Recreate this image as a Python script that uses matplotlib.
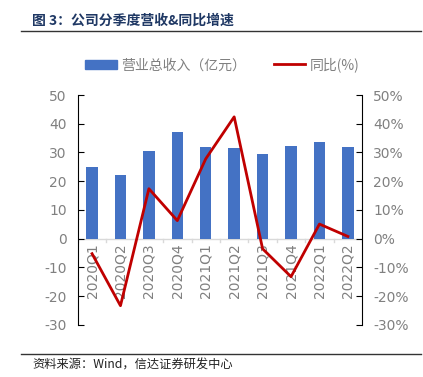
import matplotlib
matplotlib.use("Agg")
import matplotlib.pyplot as plt
from matplotlib.lines import Line2D
from matplotlib.patches import Patch

plt.rcParams['font.family'] = ['Noto Sans CJK SC', 'DejaVu Sans']

quarters = ["2020Q1", "2020Q2", "2020Q3", "2020Q4", "2021Q1", "2021Q2",
            "2021Q3", "2021Q4", "2022Q1", "2022Q2"]
revenue = [25.0, 22.3, 30.4, 37.3, 32.0, 31.7, 29.6, 32.3, 33.5, 32.0]
yoy = [-5.2, -23.3, 17.4, 6.3, 27.8, 42.4, -3.5, -13.2, 5.1, 0.8]
left_ticks = [-30, -20, -10, 0, 10, 20, 30, 40, 50]
right_ticks = [-30, -20, -10, 0, 10, 20, 30, 40, 50]

fig = plt.figure(figsize=(4.23, 3.77), dpi=100)
ax = fig.add_axes([0.184, 0.138, 0.672, 0.610])
ax2 = ax.twinx()

x = list(range(len(quarters)))
ax.bar(x, revenue, width=0.4, color="#4472C4", zorder=2)
ax2.plot(x, yoy, color="#C00000", lw=2.0, zorder=3)

gray = "#808080"
ax.set_xlim(-0.5, len(quarters) - 0.5)
ax.set_ylim(-30, 50)
ax2.set_ylim(-30, 50)
ax.set_yticks(left_ticks)
ax.set_yticklabels([str(v) for v in left_ticks], color=gray, fontsize=10, family='DejaVu Sans')
ax2.set_yticks(right_ticks)
ax2.set_yticklabels([f"{v}%" for v in right_ticks], color=gray, fontsize=10, family='DejaVu Sans')

for a in (ax, ax2):
    a.spines['top'].set_visible(False)
    a.spines['bottom'].set_visible(False)
ax.spines['right'].set_visible(False)
ax.spines['left'].set_color("#000000")
ax2.spines['right'].set_color("#000000")
ax2.spines['left'].set_visible(False)
ax.tick_params(axis='y', direction='in', length=4, color="#000000", pad=8)
ax2.tick_params(axis='y', direction='in', length=4, color="#000000", pad=8)

# zero baseline with category separators
ax.axhline(0, color="#D9D9D9", lw=1, zorder=1)
ax.set_xticks([])
for i in range(len(quarters) + 1):
    ax.plot([i - 0.5, i - 0.5], [0, -1.3], color="#D9D9D9", lw=1, zorder=1)
for i, q in enumerate(quarters):
    ax.text(i, -1.5, q, rotation=90, ha='center', va='top', color=gray,
            fontsize=10, family='DejaVu Sans')

# legend
handles = [Patch(color="#4472C4"), Line2D([0], [0], color="#C00000", lw=2)]
fig.legend(handles, ["营业总收入（亿元）", "同比(%)"], loc='center',
           bbox_to_anchor=(0.525, 0.828), ncol=2, frameon=False, fontsize=10,
           labelcolor=gray, handlelength=2.3, columnspacing=2.0, handletextpad=0.3)

# title and footer
fig.text(0.076, 0.945, "图 3：公司分季度营收&同比增速", fontsize=10, fontweight='bold',
         color="#1F3864", ha='left', va='center')
fig.add_artist(Line2D([0.05, 0.995], [0.918, 0.918], color="#333333", lw=1))
fig.add_artist(Line2D([0.05, 0.995], [0.06, 0.06], color="#333333", lw=1))
fig.text(0.076, 0.032, "资料来源：Wind，信达证券研发中心", fontsize=8.8, style='italic',
         color="#222222", ha='left', va='center')

fig.savefig("out.png", dpi=100)
